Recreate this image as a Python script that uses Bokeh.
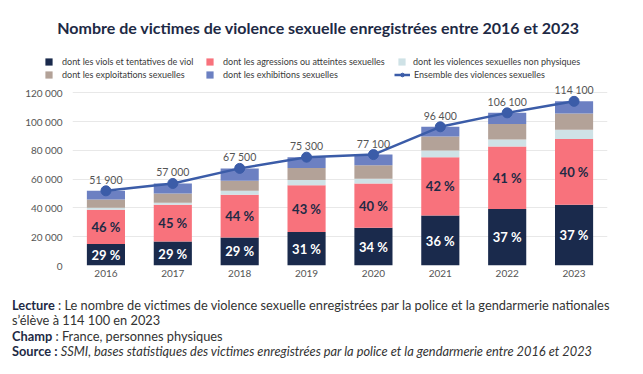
from bokeh.plotting import figure
from bokeh.models import (FactorRange, Range1d, FixedTicker, Legend, LegendItem,
                          ColumnDataSource, Div, Label)
from bokeh.layouts import column
from bokeh.embed import file_html
from bokeh.resources import INLINE
from bokeh.core.properties import value

# ---------------- data ----------------
years = ["2016", "2017", "2018", "2019", "2020", "2021", "2022", "2023"]
viols = [15000, 16600, 19500, 23300, 26200, 34700, 39300, 42200]
agressions = [23800, 25600, 29700, 32400, 30800, 40500, 43500, 45700]
non_physiques = [1400, 1500, 2700, 3700, 3300, 4800, 4700, 6400]
exploitations = [5700, 6300, 7000, 8300, 9400, 9700, 10900, 11300]
exhibitions = [6000, 7000, 8600, 7600, 7400, 6700, 7700, 8500]
totals = [51900, 57000, 67500, 75300, 77100, 96400, 106100, 114100]
total_labels = ["51 900", "57 000", "67 500", "75 300", "77 100", "96 400", "106 100", "114 100"]
pct_viols = [29, 29, 29, 31, 34, 36, 37, 37]
pct_agressions = [46, 45, 44, 43, 40, 42, 41, 40]
y_ticks = [0, 20000, 40000, 60000, 80000, 100000, 120000]
y_tick_labels = ["0", "20 000", "40 000", "60 000", "80 000", "100 000", "120 000"]
series_names = ["dont les viols et tentatives de viol",
                "dont les agressions ou atteintes sexuelles",
                "dont les violences sexuelles non physiques",
                "dont les exploitations sexuelles",
                "dont les exhibitions sexuelles"]
total_name = "Ensemble des violences sexuelles"
title_text = "Nombre de victimes de violence sexuelle enregistrées entre 2016 et 2023"

# ---------------- styles ----------------
FONT = "Lato"
colors = ["#1a2a4c", "#f8727c", "#cfe2e6", "#b3a298", "#6c80c2"]
blue = "#3b5ca8"
navy = "#1e2a45"

# ---------------- header (title + legend) ----------------
h = figure(x_range=Range1d(0, 643), y_range=Range1d(0, 80), width=643, height=80,
           output_backend="svg", toolbar_location=None, frame_align=False,
           min_border_left=0, min_border_right=0, min_border_top=0, min_border_bottom=0)
h.axis.visible = False
h.grid.visible = False
h.outline_line_color = None

h.add_layout(Label(x=318, y=53.5, x_units="screen", y_units="screen", text=title_text,
                   text_align="center", text_baseline="middle", text_font=FONT,
                   text_font_size="16px", text_font_style="bold", text_color=navy))

# legend proxies (kept outside the visible header range)
leg_bars = [h.vbar(x=[-100], top=[0], width=1, fill_color=c, line_color=None) for c in colors]
leg_line = h.line(x=[-100, -99], y=[0, 0], line_color=blue, line_width=2.5)
leg_dot = h.scatter(x=[-100], y=[0], size=9, fill_color=blue, line_color=blue)


def add_legend(items, vx, vy, gw, standoff):
    lg = Legend(items=items, location=(vx, vy), orientation="vertical",
                glyph_width=gw, glyph_height=9, label_standoff=standoff,
                label_height=12, spacing=1, padding=0, margin=0,
                border_line_color=None, background_fill_alpha=0,
                label_text_font=FONT, label_text_font_size="9px",
                label_text_color="#3a3a3a")
    h.add_layout(lg, "center")


add_legend([LegendItem(label=series_names[0], renderers=[leg_bars[0]]),
            LegendItem(label=series_names[3], renderers=[leg_bars[3]])], 44, 0, 9, 9)
add_legend([LegendItem(label=series_names[1], renderers=[leg_bars[1]]),
            LegendItem(label=series_names[4], renderers=[leg_bars[4]])], 205, 0, 9, 9)
add_legend([LegendItem(label=series_names[2], renderers=[leg_bars[2]])], 397, 13, 9, 7)
add_legend([LegendItem(label=total_name, renderers=[leg_line, leg_dot])], 394, 0, 16, 4)

# ---------------- main chart ----------------
p = figure(x_range=FactorRange(factors=years, range_padding=0),
           y_range=Range1d(0, 127200),
           width=643, height=210, output_backend="svg", toolbar_location=None,
           frame_align=False,
           min_border_left=72, min_border_right=36, min_border_top=2, min_border_bottom=25)
p.outline_line_color = None
p.background_fill_color = "white"

keys = ["viols", "agressions", "non_physiques", "exploitations", "exhibitions"]
src = ColumnDataSource(dict(years=years, viols=viols, agressions=agressions,
                            non_physiques=non_physiques, exploitations=exploitations,
                            exhibitions=exhibitions))
bars = p.vbar_stack(keys, x="years", width=0.57, fill_color=colors, line_color=None, source=src)

# percentage labels
mid_viols = [v / 2 for v in viols]
mid_aggr = [v + a / 2 for v, a in zip(viols, agressions)]
p.text(x=years, y=mid_viols, text=[f"{v} %" for v in pct_viols],
       text_align="center", text_baseline="middle", text_font=value(FONT),
       text_font_style="bold", text_font_size="13px", text_color="white")
p.text(x=years, y=mid_aggr, text=[f"{v} %" for v in pct_agressions],
       text_align="center", text_baseline="middle", text_font=value(FONT),
       text_font_style="bold", text_font_size="13px", text_color=navy)

# total line
lr = p.line(years, totals, line_color=blue, line_width=2.5)
cr = p.scatter(years, totals, size=10, fill_color=blue, line_color=blue)
p.text(x=years, y=totals, text=total_labels, y_offset=-11,
       text_align="center", text_baseline="middle", text_font=value(FONT),
       text_font_size="10.5px", text_color="#555555")

# axes
p.yaxis.ticker = FixedTicker(ticks=y_ticks)
p.yaxis.major_label_overrides = {t: l for t, l in zip(y_ticks, y_tick_labels)}
for ax in (p.xaxis[0], p.yaxis[0]):
    ax.axis_line_color = None
    ax.major_tick_line_color = None
    ax.minor_tick_line_color = None
    ax.major_tick_out = 0
    ax.major_tick_in = 0
    ax.major_label_text_font = FONT
    ax.major_label_text_font_size = "10px"
    ax.major_label_text_color = "#555555"
p.yaxis.major_label_standoff = 10
p.xaxis.major_label_standoff = 4
p.xgrid.grid_line_color = None
p.ygrid.grid_line_color = "#e8e8e8"
p.ygrid.grid_line_width = 1

# ---------------- footer ----------------
footer_html = (
    '<div style="font-family:Lato; font-size:12.8px; line-height:15.3px; color:#333333; '
    'padding-top:8px; padding-left:12px; white-space:nowrap;">'
    f'<b style="color:{navy}">Lecture</b> : Le nombre de victimes de violence sexuelle enregistrées '
    'par la police et la gendarmerie nationales<br>'
    's’élève à 114 100 en 2023<br>'
    f'<b style="color:{navy}">Champ</b> : France, personnes physiques<br>'
    f'<b style="color:{navy}">Source :</b> <i>SSMI, bases statistiques des victimes enregistrées '
    'par la police et la gendarmerie entre 2016 et 2023</i>'
    '</div>'
)
footer = Div(text=footer_html, width=643, height=84, margin=(0, 0, 0, 0))

layout = column(h, p, footer, spacing=0)
open("out.html", "w").write(file_html(layout, INLINE))
